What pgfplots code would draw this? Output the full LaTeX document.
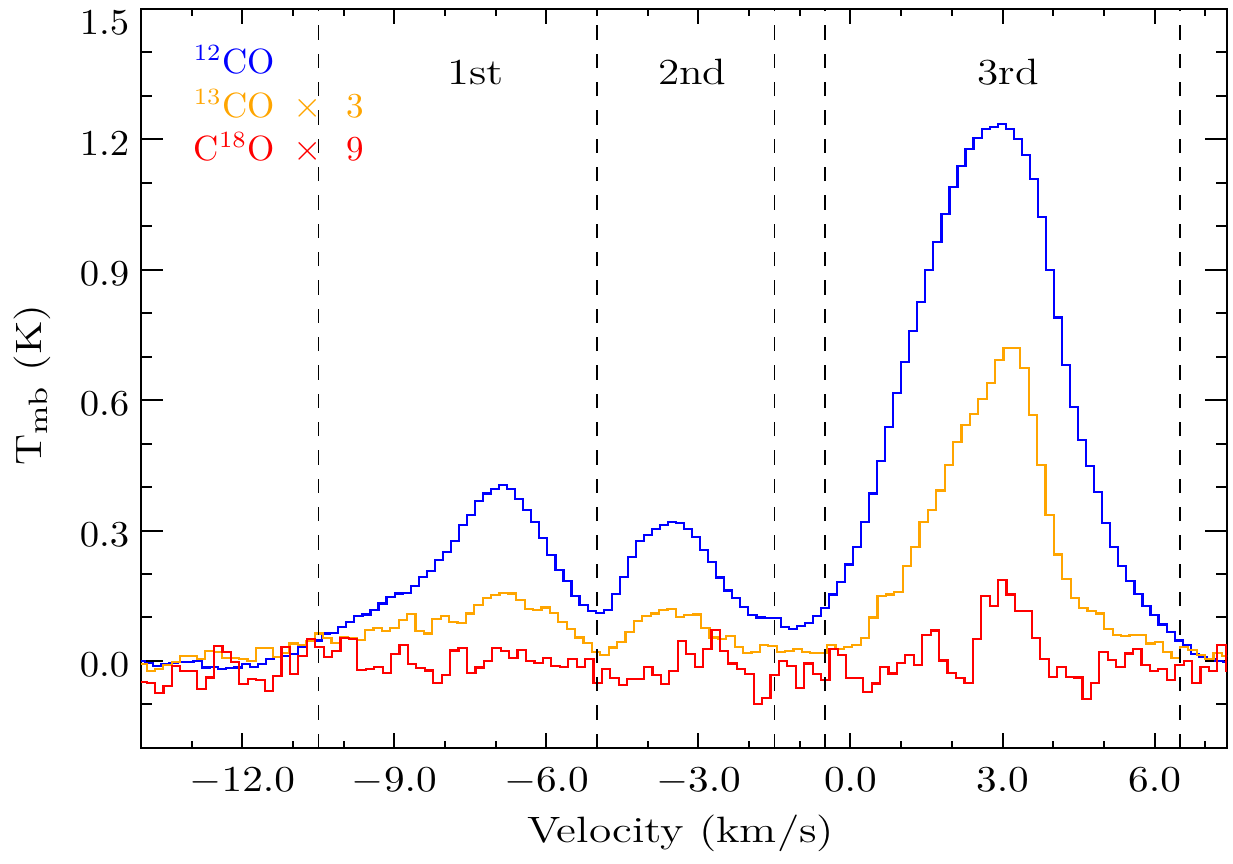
\documentclass[border=0pt]{standalone}
\usepackage{graphicx}
\usepackage{pgfplots}
\usepackage{pgfplotstable}
\pgfplotsset{compat=1.18}
\definecolor{cblue}{RGB}{0,0,255}
\definecolor{corange}{RGB}{255,165,0}
\definecolor{cred}{RGB}{255,0,0}

\pgfplotstableread{
x y
-14.073 0.000
-13.914 -0.005
-13.756 -0.012
-13.597 -0.008
-13.439 -0.005
-13.280 -0.003
-13.121 -0.003
-12.963 0.000
-12.804 -0.015
-12.645 -0.014
-12.486 -0.018
-12.328 -0.016
-12.169 -0.015
-12.010 -0.008
-11.852 -0.013
-11.693 -0.008
-11.534 0.005
-11.376 0.010
-11.217 0.012
-11.058 0.016
-10.900 0.033
-10.741 0.045
-10.582 0.047
-10.424 0.063
-10.265 0.065
-10.106 0.078
-9.948 0.090
-9.789 0.103
-9.630 0.107
-9.472 0.117
-9.313 0.132
-9.154 0.147
-8.995 0.155
-8.837 0.157
-8.678 0.172
-8.519 0.194
-8.361 0.206
-8.202 0.232
-8.043 0.251
-7.885 0.275
-7.726 0.313
-7.567 0.336
-7.409 0.367
-7.250 0.385
-7.091 0.396
-6.933 0.404
-6.774 0.396
-6.615 0.373
-6.457 0.348
-6.298 0.319
-6.139 0.282
-5.981 0.243
-5.822 0.209
-5.663 0.184
-5.505 0.150
-5.346 0.129
-5.187 0.114
-5.028 0.110
-4.870 0.118
-4.711 0.154
-4.552 0.193
-4.394 0.239
-4.235 0.275
-4.076 0.290
-3.918 0.304
-3.759 0.313
-3.600 0.320
-3.442 0.318
-3.283 0.304
-3.124 0.285
-2.966 0.256
-2.807 0.228
-2.648 0.192
-2.490 0.162
-2.331 0.144
-2.172 0.125
-2.014 0.105
-1.855 0.100
-1.696 0.098
-1.538 0.098
-1.379 0.079
-1.220 0.074
-1.061 0.080
-0.903 0.087
-0.744 0.103
-0.585 0.122
-0.427 0.153
-0.268 0.182
-0.109 0.222
0.049 0.263
0.208 0.319
0.367 0.385
0.525 0.459
0.684 0.538
0.843 0.616
1.001 0.688
1.160 0.759
1.319 0.825
1.477 0.899
1.636 0.963
1.795 1.029
1.953 1.091
2.112 1.139
2.271 1.178
2.429 1.202
2.588 1.223
2.747 1.229
2.906 1.235
3.064 1.223
3.223 1.200
3.382 1.163
3.540 1.108
3.699 1.021
3.858 0.899
4.016 0.790
4.175 0.681
4.334 0.585
4.492 0.509
4.651 0.448
4.810 0.388
4.968 0.318
5.127 0.262
5.286 0.218
5.444 0.183
5.603 0.154
5.762 0.127
5.920 0.105
6.079 0.084
6.238 0.066
6.396 0.047
6.555 0.037
6.714 0.015
6.873 0.009
7.031 0.005
7.190 -0.001
7.349 -0.002
7.507 -0.002
}\codata

\pgfplotstableread{
x y
-14.055 -0.008
-13.889 -0.023
-13.724 -0.018
-13.558 -0.010
-13.392 -0.002
-13.226 0.012
-13.061 0.012
-12.895 0.004
-12.729 0.022
-12.563 0.020
-12.397 0.006
-12.232 0.006
-12.066 0.004
-11.900 0.000
-11.734 0.029
-11.569 0.029
-11.403 0.009
-11.237 0.019
-11.071 0.040
-10.905 0.037
-10.740 0.045
-10.574 0.063
-10.408 0.052
-10.242 0.042
-10.077 0.054
-9.911 0.053
-9.745 0.049
-9.579 0.072
-9.413 0.075
-9.248 0.069
-9.082 0.076
-8.916 0.095
-8.750 0.108
-8.585 0.069
-8.419 0.063
-8.253 0.097
-8.087 0.103
-7.921 0.090
-7.756 0.088
-7.590 0.109
-7.424 0.128
-7.258 0.145
-7.093 0.152
-6.927 0.157
-6.761 0.155
-6.595 0.141
-6.429 0.120
-6.264 0.118
-6.098 0.123
-5.932 0.111
-5.766 0.090
-5.601 0.073
-5.435 0.054
-5.269 0.042
-5.103 0.021
-4.937 0.013
-4.772 0.031
-4.606 0.044
-4.440 0.067
-4.274 0.092
-4.109 0.103
-3.943 0.109
-3.777 0.117
-3.611 0.119
-3.445 0.102
-3.280 0.105
-3.114 0.107
-2.948 0.075
-2.782 0.054
-2.617 0.050
-2.451 0.058
-2.285 0.032
-2.119 0.018
-1.953 0.021
-1.788 0.036
-1.622 0.035
-1.456 0.021
-1.290 0.023
-1.125 0.027
-0.959 0.021
-0.793 0.019
-0.627 0.019
-0.461 0.036
-0.296 0.028
-0.130 0.033
0.036 0.037
0.202 0.052
0.368 0.100
0.533 0.149
0.699 0.153
0.865 0.158
1.031 0.218
1.197 0.263
1.362 0.320
1.528 0.348
1.694 0.392
1.860 0.450
2.025 0.504
2.191 0.542
2.357 0.568
2.523 0.602
2.688 0.640
2.854 0.692
3.020 0.719
3.186 0.720
3.352 0.673
3.517 0.566
3.683 0.450
3.849 0.335
4.015 0.245
4.180 0.189
4.346 0.144
4.512 0.122
4.678 0.115
4.843 0.109
5.009 0.073
5.175 0.060
5.341 0.057
5.507 0.060
5.672 0.059
5.838 0.040
6.004 0.044
6.170 0.021
6.336 0.006
6.501 0.033
6.667 0.026
6.833 0.014
6.999 0.005
7.164 0.019
7.330 0.011
7.496 0.011
}\thirteendata

\pgfplotstableread{
x y
-14.056 -0.048
-13.889 -0.050
-13.723 -0.073
-13.557 -0.058
-13.390 -0.012
-13.224 -0.023
-13.058 -0.023
-12.891 -0.064
-12.725 -0.038
-12.558 0.034
-12.392 0.021
-12.226 -0.002
-12.059 -0.054
-11.893 -0.042
-11.727 -0.044
-11.560 -0.069
-11.394 -0.034
-11.227 0.033
-11.061 -0.031
-10.895 0.011
-10.728 0.051
-10.562 0.033
-10.396 0.009
-10.229 0.023
-10.063 0.052
-9.896 0.051
-9.730 -0.021
-9.564 -0.018
-9.397 -0.013
-9.231 -0.028
-9.065 0.015
-8.898 0.037
-8.732 -0.007
-8.566 -0.017
-8.399 -0.022
-8.233 -0.050
-8.066 -0.033
-7.900 0.024
-7.734 0.030
-7.567 -0.027
-7.401 -0.015
-7.235 0.000
-7.068 0.030
-6.902 0.023
-6.735 0.007
-6.569 0.026
-6.403 0.000
-6.236 -0.004
-6.070 0.007
-5.904 -0.012
-5.737 -0.013
-5.571 0.005
-5.404 -0.014
-5.238 0.005
-5.072 -0.050
-4.905 -0.019
-4.739 -0.040
-4.573 -0.056
-4.406 -0.041
-4.240 -0.041
-4.074 -0.013
-3.907 -0.032
-3.741 -0.054
-3.574 -0.023
-3.408 0.045
-3.242 0.015
-3.075 -0.013
-2.909 0.027
-2.743 0.071
-2.576 0.023
-2.410 -0.006
-2.244 -0.018
-2.077 -0.031
-1.911 -0.100
-1.744 -0.085
-1.578 -0.033
-1.412 0.000
-1.245 -0.012
-1.079 -0.062
-0.913 -0.006
-0.746 -0.031
-0.580 -0.044
-0.413 0.027
-0.247 0.014
-0.081 -0.039
0.086 -0.039
0.252 -0.071
0.418 -0.052
0.585 -0.013
0.751 -0.029
0.918 -0.004
1.084 0.013
1.250 -0.010
1.417 0.060
1.583 0.070
1.749 0.001
1.916 -0.028
2.082 -0.040
2.249 -0.051
2.415 0.050
2.581 0.149
2.748 0.126
2.914 0.187
3.080 0.153
3.247 0.115
3.413 0.115
3.579 0.053
3.746 0.005
3.912 -0.037
4.079 -0.013
4.245 -0.037
4.411 -0.038
4.578 -0.088
4.744 -0.051
4.910 0.021
5.077 0.002
5.243 -0.013
5.410 0.017
5.576 0.028
5.742 -0.010
5.909 -0.023
6.075 -0.018
6.241 -0.044
6.408 -0.010
6.574 -0.001
6.741 -0.050
6.907 -0.014
7.073 -0.024
7.240 0.037
7.406 -0.023
7.573 -0.023
}\eighteendata

\begin{document}
\begin{tikzpicture}
\begin{axis}[
  scale only axis,
  width=325.8pt, height=221.7pt,
  xmin=-14.0, xmax=7.43, ymin=-0.2, ymax=1.5,
  axis line style={line width=0.6pt},
  tick style={black, line width=0.6pt},
  tick align=inside,
  major tick length=6.5pt, minor tick length=3.3pt,
  xtick style={/pgfplots/major tick length=4.4pt, /pgfplots/minor tick length=2.2pt},
  xtick={-12,-9,-6,-3,0,3,6},
  minor xtick={-14,-13,...,7},
  ytick={0,0.3,0.6,0.9,1.2},
  extra y ticks={1.5},
  extra y tick style={yticklabel style={yshift=-3pt}},
  minor ytick={-0.2,-0.1,0.1,0.2,0.4,0.5,0.7,0.8,1.0,1.1,1.3,1.4},
  tick label style={font=\fontsize{11}{13}\selectfont},
  xticklabel={\scalebox{1.13}[1]{$\pgfmathprintnumber{\tick}$}},
  yticklabel={\scalebox{1.06}[1]{$\pgfmathprintnumber{\tick}$}},
  xticklabel style={yshift=-2.6pt, /pgf/number format/fixed, /pgf/number format/fixed zerofill, /pgf/number format/precision=1},
  yticklabel style={yshift=-1.2pt, /pgf/number format/fixed, /pgf/number format/fixed zerofill, /pgf/number format/precision=1},
  label style={font=\fontsize{11}{13}\selectfont},
  xlabel={\scalebox{1.24}[1]{Velocity (km/s)}},
  xlabel style={at={(axis description cs:0.497,-0.116)}, anchor=center},
  ylabel={\scalebox{1.2}[1]{T$_{\mathrm{mb}}$\ (K)}},
  ylabel style={at={(axis description cs:-0.1003,0.491)}, anchor=center},
  clip=true,
]
\addplot[cblue, line width=0.65pt, const plot] table[x=x,y=y] {\codata};
\addplot[corange, line width=0.65pt, const plot] table[x=x,y=y] {\thirteendata};
\addplot[cred, line width=0.65pt, const plot] table[x=x,y=y] {\eighteendata};

\addplot[black, line width=0.5pt, dash pattern=on 4.3pt off 4.2pt] coordinates {(-10.5,-0.2) (-10.5,1.5)};
\addplot[black, line width=0.5pt, dash pattern=on 4.3pt off 4.2pt] coordinates {(-5.0,-0.2) (-5.0,1.5)};
\addplot[black, line width=0.5pt, dash pattern=on 4.3pt off 4.2pt] coordinates {(-1.5,-0.2) (-1.5,1.5)};
\addplot[black, line width=0.5pt, dash pattern=on 4.3pt off 4.2pt] coordinates {(-0.5,-0.2) (-0.5,1.5)};
\addplot[black, line width=0.5pt, dash pattern=on 4.3pt off 4.2pt] coordinates {(6.5,-0.2) (6.5,1.5)};

\node[anchor=base, font=\fontsize{11}{13}\selectfont] at (axis cs:-7.40,1.325) {\scalebox{1.22}[1]{1st}};
\node[anchor=base, font=\fontsize{11}{13}\selectfont] at (axis cs:-3.12,1.325) {\scalebox{1.18}[1]{2nd}};
\node[anchor=base, font=\fontsize{11}{13}\selectfont] at (axis cs:3.11,1.325) {\scalebox{1.18}[1]{3rd}};

\node[anchor=base west, inner sep=0pt, text=cblue, font=\fontsize{10.5}{12}\selectfont] at (axis cs:-12.97,1.351) {$^{12}$CO};
\node[anchor=base west, inner sep=0pt, text=corange, font=\fontsize{10.5}{12}\selectfont] at (axis cs:-12.97,1.250) {$^{13}$CO\hspace{0.55em}$\times$\hspace{0.7em}3};
\node[anchor=base west, inner sep=0pt, text=cred, font=\fontsize{10.5}{12}\selectfont] at (axis cs:-12.97,1.151) {C$^{18}$O\hspace{0.55em}$\times$\hspace{0.7em}9};

\coordinate (bbll) at (axis description cs:-0.12983,-0.15562);
\coordinate (bbur) at (axis description cs:1.00552,1.00677);
\end{axis}
\path (bbll) rectangle (bbur);
\end{tikzpicture}
\end{document}
